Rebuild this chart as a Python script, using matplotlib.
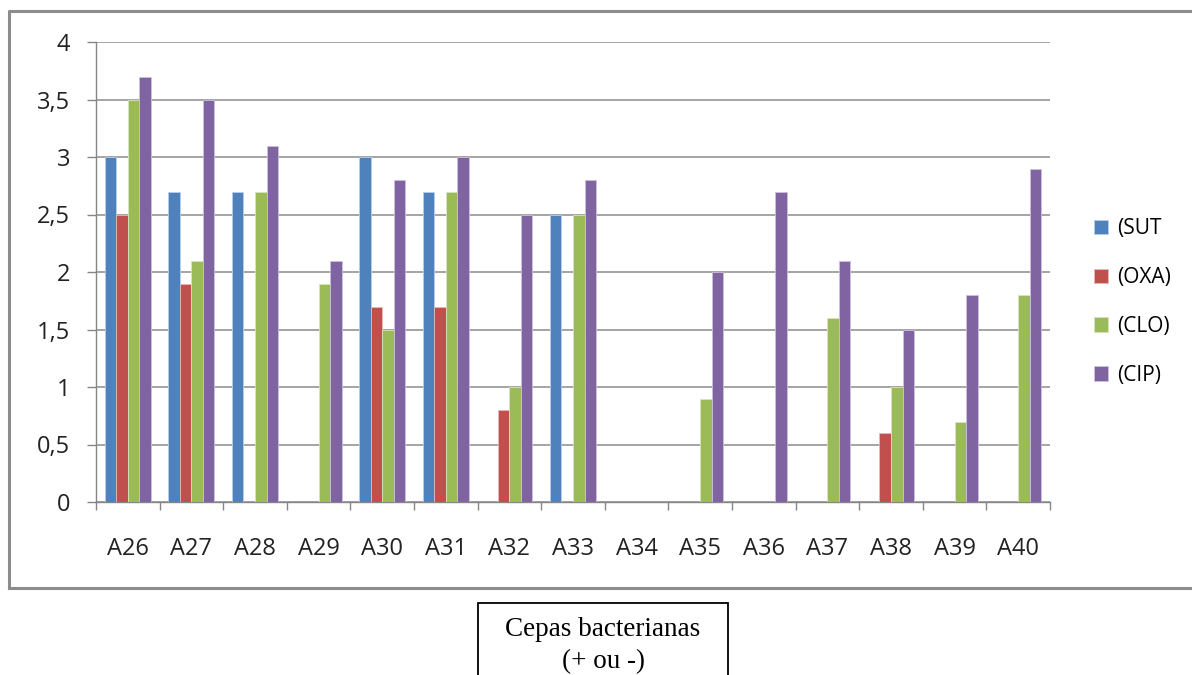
import matplotlib
matplotlib.use("Agg")
import matplotlib.pyplot as plt
from matplotlib.patches import Rectangle
from matplotlib.lines import Line2D
import numpy as np

categories = ["A26", "A27", "A28", "A29", "A30", "A31", "A32", "A33",
              "A34", "A35", "A36", "A37", "A38", "A39", "A40"]
series_names = ["(SUT", "(OXA)", "(CLO)", "(CIP)"]
sut = [3.0, 2.7, 2.7, 0, 3.0, 2.7, 0, 2.5, 0, 0, 0, 0, 0, 0, 0]
oxa = [2.5, 1.9, 0, 0, 1.7, 1.7, 0.8, 0, 0, 0, 0, 0, 0.6, 0, 0]
clo = [3.5, 2.1, 2.7, 1.9, 1.5, 2.7, 1.0, 2.5, 0, 0.9, 0, 1.6, 1.0, 0.7, 1.8]
cip = [3.7, 3.5, 3.1, 2.1, 2.8, 3.0, 2.5, 2.8, 0, 2.0, 2.7, 2.1, 1.5, 1.8, 2.9]
yticks = [0, 0.5, 1, 1.5, 2, 2.5, 3, 3.5, 4]
ylabels = ["0", "0,5", "1", "1,5", "2", "2,5", "3", "3,5", "4"]

colors = ["#4F81BD", "#C0504D", "#9BBB59", "#8064A2"]
edges = ["#B9CDE5", "#E6B9B8", "#D7E4BD", "#CCC1DA"]

W, H = 1192, 675
fig = plt.figure(figsize=(W / 100, H / 100), dpi=100)

# outer chart frame
fig.add_artist(Line2D([9 / W, 9 / W, 1.01], [1 - 588 / H, 1 - 11 / H, 1 - 11 / H],
                      color="#8c8c8c", lw=2.2, transform=fig.transFigure))
fig.add_artist(Line2D([9 / W, 1.01], [1 - 588 / H, 1 - 588 / H],
                      color="#8c8c8c", lw=2.2, transform=fig.transFigure))

ax = fig.add_axes([96 / W, 1 - 502 / H, (1050 - 96) / W, (502 - 42) / H])

x = np.arange(len(categories)) + 0.5
bw = 0.181
data = [sut, oxa, clo, cip]
for i, vals in enumerate(data):
    ax.bar(x + (i - 1.5) * bw, vals, width=bw, color=colors[i],
           edgecolor=edges[i], linewidth=0.6, label=series_names[i], zorder=3)

ax.set_xlim(0, len(categories))
ax.set_ylim(0, 4)
ax.set_yticks(yticks)
ax.set_yticklabels(ylabels)
ax.set_xticks(x)
ax.set_xticklabels(categories)
ax.set_xticks(np.arange(len(categories) + 1), minor=True)
ax.tick_params(axis="x", which="major", length=0, pad=25, labelsize=17,
               colors="#222222")
ax.tick_params(axis="x", which="minor", length=6, width=1, color="#868686")
ax.tick_params(axis="y", length=6.5, width=1, color="#868686", pad=12,
               labelsize=17, labelcolor="#222222")
for lab in ax.get_xticklabels() + ax.get_yticklabels():
    lab.set_family("Open Sans")

ax.grid(axis="y", color="#8c8c8c", lw=1.1, zorder=0)
for s in ["top", "right"]:
    ax.spines[s].set_visible(False)
ax.spines["left"].set_color("#868686")
ax.spines["bottom"].set_color("#868686")
ax.spines["left"].set_linewidth(1)
ax.spines["bottom"].set_linewidth(1)

leg = ax.legend(loc="center left", bbox_to_anchor=(1.026, 0.435), frameon=False,
                prop={"family": "Open Sans", "size": 15}, labelspacing=1.34,
                handlelength=0.67, handleheight=0.67, handletextpad=0.45)

# caption box
fig.add_artist(Rectangle((478 / W, -0.05), (728 - 478) / W, (1 - 603 / H) + 0.05,
                         transform=fig.transFigure, fill=False, ec="black", lw=1.3))
fig.text(603 / W, 1 - 630 / H, "Cepas bacterianas", ha="center", va="center",
         family="Liberation Serif", fontsize=19.5)
fig.text(603 / W, 1 - 662 / H, "(+ ou -)", ha="center", va="center",
         family="Liberation Serif", fontsize=19.5)

fig.savefig("out.png", dpi=100)
